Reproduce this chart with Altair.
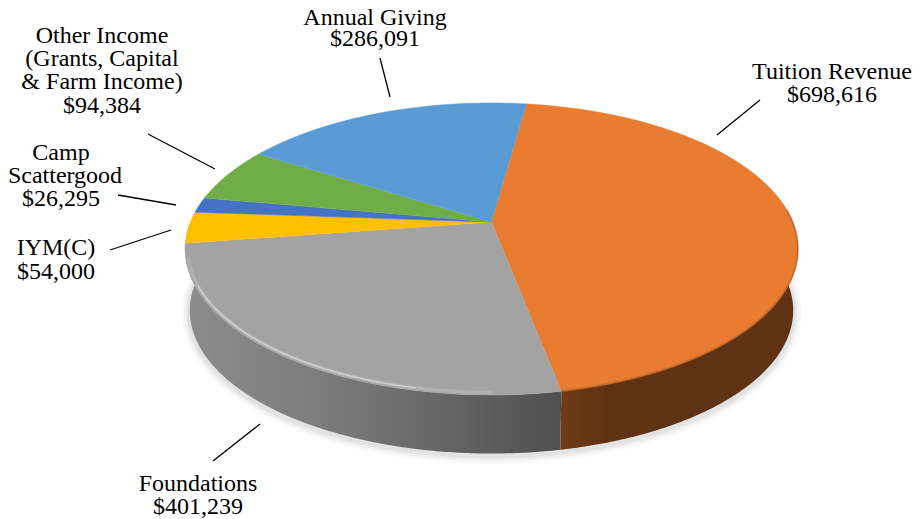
import math
import altair as alt
import pandas as pd

# ---- values ----
categories = ["Tuition Revenue", "Foundations", "IYM(C)", "Camp Scattergood", "Other Income", "Annual Giving"]
amounts = [698616, 401239, 54000, 26295, 94384, 286091]
slice_colors = ["#E97C30", "#A3A3A3", "#FFC000", "#4472C4", "#70AD47", "#5B9BD5"]
label_lines = [
    ["Tuition Revenue", "$698,616"],
    ["Foundations", "$401,239"],
    ["IYM(C)", "$54,000"],
    ["Camp", "Scattergood", "$26,295"],
    ["Other Income", "(Grants, Capital", "& Farm Income)", "$94,384"],
    ["Annual Giving", "$286,091"],
]

# ---- layout (chart space equals page pixels) ----
W, H = 907, 511
START = 7.9
CX, CY, A, B, K = 491.5, 222, 301, 141, 0.185
DEPTH, WALL_SCALE = 62, 0.985
label_x = [[832, 832], [198, 198], [56, 56], [61, 65, 61], [102, 102, 102, 102], [375, 375]]
label_y = [[72, 95], [484, 507], [248, 272], [153, 176, 199], [36, 59, 82, 106], [18, 39]]
leaders = [
    (760, 100, 717, 135), (260, 424, 213, 461), (110, 250, 171, 230),
    (118, 195, 176, 205), (148, 134, 215, 169), (380, 58, 390, 97),
]

x_scale = alt.Scale(domain=[8, 8 + W], range=[0, W], nice=False, zero=False)
y_scale = alt.Scale(domain=[8, 8 + H], range=[0, H], nice=False, zero=False)
X = alt.X("x:Q", scale=x_scale, axis=None)
Y = alt.Y("y:Q", scale=y_scale, axis=None)
ORDER = alt.Order("i:Q")


def top(t):
    r = math.radians(t)
    u, v = math.sin(r), -math.cos(r)
    d = 1 - K * v
    return CX + A * u / d, CY + B * v / d


def bottom(t):
    x, y = top(t)
    return CX + (x - CX) * WALL_SCALE, CY + DEPTH + (y - CY) * 0.98


def span(a, b, n=None):
    n = n or max(2, int(abs(b - a)) * 2)
    return [a + (b - a) * k / n for k in range(n + 1)]


def frame(points):
    return pd.DataFrame([{"i": i, "x": p[0], "y": p[1]} for i, p in enumerate(points)])


def path(points, **mark):
    return alt.Chart(frame(points)).mark_line(**mark).encode(x=X, y=Y, order=ORDER)


def inset(t):
    x, y = top(t)
    return CX + (x - CX) * 0.992, CY + (y - CY) * 0.985


total = sum(amounts)
bounds = [START]
for v in amounts:
    bounds.append(bounds[-1] + 360 * v / total)
t_orange_end, t_gray_end = bounds[1], bounds[2]

layers = []

# soft shadow under the disc
bottom_rim = [bottom(t) for t in span(70, 275)]
for w, op in [(16, 0.025), (11, 0.035), (6, 0.05)]:
    layers.append(path([(x, y + 2) for x, y in bottom_rim], stroke="#000000", strokeWidth=w, opacity=op, strokeCap="round"))

# walls
def wall(a, b):
    ts = span(a, b)
    return [top(t) for t in ts] + [bottom(t) for t in reversed(ts)]

layers.append(path(wall(78, t_orange_end), filled=True, strokeWidth=0, fill=alt.Gradient(
    gradient="linear", x1=1, x2=0, y1=0, y2=0,
    stops=[alt.GradientStop(color="#5E3212", offset=0), alt.GradientStop(color="#5E3212", offset=0.8),
           alt.GradientStop(color="#703C16", offset=1)])))
layers.append(path(wall(t_orange_end, 270), filled=True, strokeWidth=0, fill=alt.Gradient(
    gradient="linear", x1=0, x2=1, y1=0, y2=0,
    stops=[alt.GradientStop(color="#8C8C8C", offset=0), alt.GradientStop(color="#7A7A7A", offset=0.4),
           alt.GradientStop(color="#4F4F4F", offset=1)])))

# top face
for i, c in enumerate(slice_colors):
    pts = [(CX, CY)] + [top(t) for t in span(bounds[i], bounds[i + 1])]
    layers.append(path(pts, filled=True, fill=c, stroke=c, strokeWidth=0.6))

# rim shading
layers.append(path([top(t) for t in span(85, t_orange_end)], stroke="#A85A20", strokeWidth=2, opacity=0.55))
layers.append(path([inset(t) for t in span(180, 256)], stroke="#FFFFFF", strokeWidth=3.5, opacity=0.16))
layers.append(path([inset(t) for t in span(192, 245)], stroke="#FFFFFF", strokeWidth=1.4, opacity=0.4))

# leaders
for x1, y1, x2, y2 in leaders:
    layers.append(path([(x1, y1), (x2, y2)], stroke="#000000", strokeWidth=1.3))

# labels
rows = []
for lines, xs, ys in zip(label_lines, label_x, label_y):
    for s, lx, ly in zip(lines, xs, ys):
        rows.append({"x": lx, "y": ly, "s": s})
layers.append(alt.Chart(pd.DataFrame(rows)).mark_text(
    font="Liberation Serif", fontSize=24, color="#000000", align="center", baseline="middle"
).encode(x=X, y=Y, text="s:N"))

chart = alt.layer(*layers).properties(
    width=W, height=H, padding=0, autosize=alt.AutoSizeParams(type="none"), background="#FFFFFF"
).configure_view(stroke=None)

chart.save("out.html", embed_options={"renderer": "svg", "actions": False})
